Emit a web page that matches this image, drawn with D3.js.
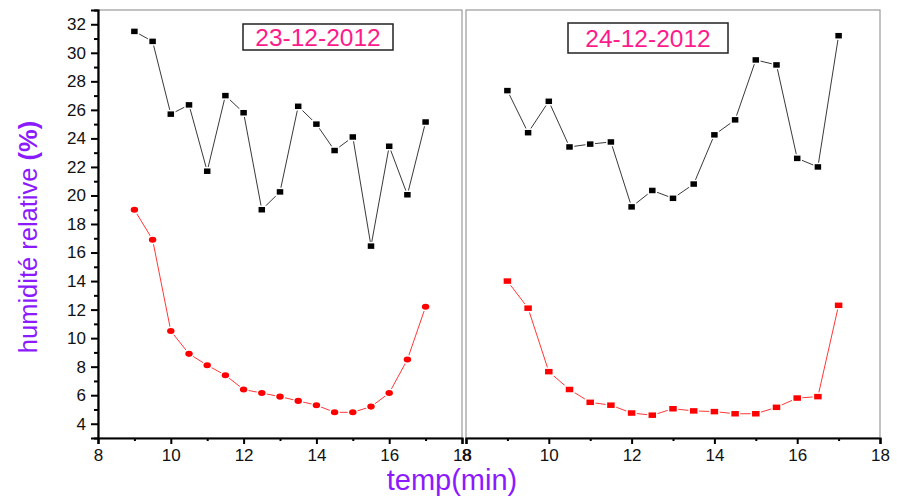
<!DOCTYPE html>
<html>
<head>
<meta charset="utf-8">
<script src="https://cdn.jsdelivr.net/npm/d3@7"></script>
<style>
  body { margin: 0; background: white; }
  svg { display: block; font-family: "Liberation Sans", Arial, sans-serif; }
</style>
</head>
<body>
<script>
// temps (min), un point toutes les 30 s
const temps = [9, 9.5, 10, 10.5, 11, 11.5, 12, 12.5, 13, 13.5, 14, 14.5, 15, 15.5, 16, 16.5, 17];

// 23-12-2012
const noir23 = [31.5, 30.8, 25.7, 26.35, 21.7, 27.0, 25.8, 19.0, 20.25, 26.25, 25.0, 23.15, 24.1, 16.45, 23.45, 20.05, 25.15];
const rouge23 = [19.0, 16.9, 10.5, 8.9, 8.1, 7.4, 6.4, 6.15, 5.9, 5.6, 5.3, 4.8, 4.8, 5.2, 6.15, 8.5, 12.2];

// 24-12-2012
const noir24 = [27.35, 24.4, 26.6, 23.4, 23.6, 23.75, 19.2, 20.35, 19.8, 20.8, 24.25, 25.3, 29.5, 29.15, 22.6, 22.0, 31.2];
const rouge24 = [14.0, 12.1, 7.65, 6.4, 5.5, 5.3, 4.75, 4.6, 5.05, 4.9, 4.85, 4.7, 4.7, 5.15, 5.8, 5.9, 12.3];

const xTicks = [8, 10, 12, 14, 16, 18];
const yTicks = [4, 6, 8, 10, 12, 14, 16, 18, 20, 22, 24, 26, 28, 30, 32];
const dates = ["23-12-2012", "24-12-2012"];

const width = 897, height = 496;
const yHaut = 10, yBas = 438;

const svg = d3.select("body").append("svg")
    .attr("width", width)
    .attr("height", height);

// axe y commun
const y = d3.scaleLinear().domain([3, 33]).range([yBas, yHaut]);

// deux panneaux
const panels = [
    {x0: 98, x1: 462, noir: noir23, rouge: rouge23, date: dates[0], box: [243, 24, 150, 26], cercle: true, axeY: true},
    {x0: 466, x1: 880, noir: noir24, rouge: rouge24, date: dates[1], box: [568, 23, 160, 30], cercle: false, axeY: false}
];

panels.forEach(p => {
    const x = d3.scaleLinear().domain([8, 18]).range([p.x0, p.x1]);
    const g = svg.append("g");

    // cadre gris
    g.append("rect")
        .attr("x", p.x0).attr("y", yHaut)
        .attr("width", p.x1 - p.x0).attr("height", yBas - yHaut)
        .attr("fill", "none")
        .attr("stroke", "#999")
        .attr("stroke-width", 1.2);

    // axe x
    const ax = g.append("g").attr("transform", `translate(0,${yBas})`)
        .call(d3.axisBottom(x).tickValues(xTicks).tickSize(6).tickPadding(5).tickFormat(d3.format("d")));
    ax.append("g")
        .call(d3.axisBottom(x).tickValues([9, 11, 13, 15, 17]).tickSize(3).tickFormat(""))
        .select(".domain").remove();
    ax.selectAll("path.domain").attr("stroke", "#000").attr("stroke-width", 2.2);
    ax.selectAll("line").attr("stroke", "#000").attr("stroke-width", 2);
    ax.selectAll("text").attr("font-size", 17).attr("fill", "#111");

    // axe y (panneau gauche seulement)
    if (p.axeY) {
        const ay = g.append("g").attr("transform", `translate(${p.x0},0)`)
            .call(d3.axisLeft(y).tickValues(yTicks).tickSize(7).tickPadding(5).tickFormat(d3.format("d")));
        ay.append("g")
            .call(d3.axisLeft(y).tickValues(d3.range(3, 34, 2)).tickSize(4).tickFormat(""))
            .select(".domain").remove();
        ay.selectAll("path.domain").attr("stroke", "#000").attr("stroke-width", 2.2);
        ay.selectAll("line").attr("stroke", "#000").attr("stroke-width", 2);
        ay.selectAll("text").attr("font-size", 17).attr("fill", "#111");
    }

    const line = d3.line().x((d, i) => x(temps[i])).y(d => y(d));

    // séries
    g.append("path").datum(p.noir)
        .attr("d", line).attr("fill", "none")
        .attr("stroke", "#222").attr("stroke-width", 0.9);
    g.append("path").datum(p.rouge)
        .attr("d", line).attr("fill", "none")
        .attr("stroke", "#ff2020").attr("stroke-width", 0.9);

    g.selectAll(".carre").data(p.noir).enter().append("rect")
        .attr("x", (d, i) => x(temps[i]) - 4)
        .attr("y", d => y(d) - 3.5)
        .attr("width", 8).attr("height", 7)
        .attr("fill", "#000")
        .attr("stroke", "#fff").attr("stroke-width", 1.5);

    if (p.cercle) {
        g.selectAll(".rond").data(p.rouge).enter().append("ellipse")
            .attr("cx", (d, i) => x(temps[i]))
            .attr("cy", d => y(d))
            .attr("rx", 4.5).attr("ry", 3.8)
            .attr("fill", "#ff0000")
            .attr("stroke", "#fff").attr("stroke-width", 1.5);
    } else {
        g.selectAll(".carreRouge").data(p.rouge).enter().append("rect")
            .attr("x", (d, i) => x(temps[i]) - 4.5)
            .attr("y", d => y(d) - 3.5)
            .attr("width", 9).attr("height", 7)
            .attr("fill", "#ff0000")
            .attr("stroke", "#fff").attr("stroke-width", 1.5);
    }

    // étiquette de date
    g.append("rect")
        .attr("x", p.box[0]).attr("y", p.box[1])
        .attr("width", p.box[2]).attr("height", p.box[3])
        .attr("fill", "#fff").attr("stroke", "#222").attr("stroke-width", 1.5);
    g.append("text")
        .attr("x", p.box[0] + p.box[2] / 2)
        .attr("y", p.box[1] + p.box[3] / 2 + 8.5)
        .attr("text-anchor", "middle")
        .attr("font-size", 24.5)
        .attr("fill", "#ff1a8c")
        .text(p.date);
});

// titres des axes
svg.append("text")
    .attr("transform", "translate(37,237) rotate(-90)")
    .attr("text-anchor", "middle")
    .attr("font-size", 25.5)
    .attr("fill", "#8c1aff")
    .html('humidité relative <tspan font-weight="bold">(%)</tspan>');

svg.append("text")
    .attr("x", 452).attr("y", 490)
    .attr("text-anchor", "middle")
    .attr("font-size", 29)
    .attr("fill", "#8c1aff")
    .text("temp(min)");
</script>
</body>
</html>
